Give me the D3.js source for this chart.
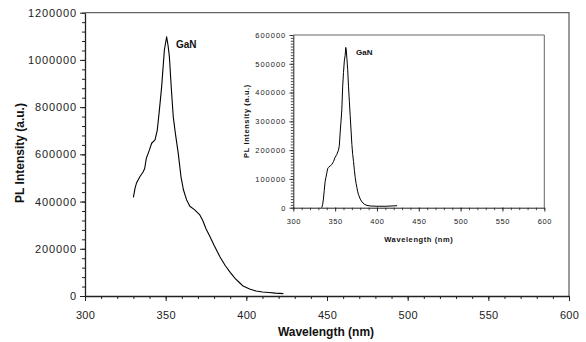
<!DOCTYPE html>
<html><head><meta charset="utf-8">
<script src="https://cdn.jsdelivr.net/npm/d3@7"></script>
<style>
body{margin:0;background:#fff;}
svg{display:block;font-family:"Liberation Sans",Arial,sans-serif;}
</style></head>
<body>
<svg id="c" width="586" height="342"></svg>
<script>
// Main spectrum (wavelength nm, PL intensity a.u.)
const mainWavelength = [330,331,332,334,336,337,338,340,341.3,343.4,344.8,346,347.5,349.2,350.6,351.5,352.3,353.5,354.7,356,357.8,359.5,361,363,365,368,371,373,375,377.5,380,383.7,387,390,393,396,398,402,406,410,414,418,423];
const mainIntensity  = [418000,456000,480000,505000,525000,540000,583000,620000,647000,661000,703000,780000,886000,1042000,1098000,1060000,1014000,880000,759000,690000,604000,505000,450000,407000,380000,365000,345000,320000,285000,251000,215000,165000,128000,100000,75000,55000,42000,30000,21000,17000,15000,12000,10000];
// Inset spectrum
const insetWavelength = [334,335,336,337,338,339,340,341,342,344,346,348,350,352,354,355,356,357,358,359,360,361,362,362.7,363.3,364,365,366,367,368,369,370,371,372,373,374,375,376,377,378,380,382,385,388,392,400,410,418,424];
const insetIntensity  = [0,10000,30000,60000,90000,105000,120000,135000,140000,145000,150000,160000,175000,185000,200000,215000,260000,300000,340000,420000,470000,510000,530000,557000,548000,520000,480000,420000,370000,320000,270000,220000,185000,160000,130000,105000,85000,70000,55000,45000,30000,20000,12000,8000,6000,5000,5000,6000,7000];
const xTicks = [300,350,400,450,500,550,600];
const mainYTicks = [0,200000,400000,600000,800000,1000000,1200000];
const insetYTicks = [0,100000,200000,300000,400000,500000,600000];
const labels = {x:"Wavelength (nm)", y:"PL Intensity (a.u.)", series:"GaN"};

const svg = d3.select("#c");

function panel(cfg){
  const g = svg.append("g");
  const x = d3.scaleLinear().domain([300,600]).range([cfg.x0,cfg.x1]);
  const y = d3.scaleLinear().domain([0,cfg.ymax]).range([cfg.y0,cfg.y1]);
  // background
  g.append("rect").attr("x",cfg.x0).attr("y",cfg.y1).attr("width",cfg.x1-cfg.x0).attr("height",cfg.y0-cfg.y1).attr("fill","#fff");
  // frame top/right
  g.append("path").attr("d",`M${cfg.x0},${cfg.y1}H${cfg.x1}V${cfg.y0}`).attr("fill","none").attr("stroke","#666").attr("stroke-width",cfg.frameW);
  // minor x ticks
  const xMinor = g.append("g").attr("transform",`translate(0,${cfg.y0})`)
    .call(d3.axisBottom(x).tickValues(d3.range(300,601,10)).tickSize(cfg.minorLen).tickFormat(""));
  xMinor.select(".domain").remove();
  const xAx = g.append("g").attr("transform",`translate(0,${cfg.y0})`)
    .call(d3.axisBottom(x).tickValues(xTicks).tickSize(cfg.majorLen).tickSizeOuter(0).tickPadding(cfg.xPad).tickFormat(d3.format("d")));
  const yMinor = g.append("g").attr("transform",`translate(${cfg.x0},0)`)
    .call(d3.axisLeft(y).tickValues(d3.range(0,cfg.ymax+1,cfg.yMinorStep)).tickSize(cfg.minorLen).tickFormat(""));
  yMinor.select(".domain").remove();
  const yAx = g.append("g").attr("transform",`translate(${cfg.x0},0)`)
    .call(d3.axisLeft(y).tickValues(cfg.yTicks).tickSize(cfg.majorLen).tickSizeOuter(0).tickPadding(cfg.yPad).tickFormat(d3.format("d")));
  [xMinor,xAx,yMinor,yAx].forEach(a=>{
    a.selectAll("line").attr("stroke","#222").attr("stroke-width",cfg.tickW);
    a.selectAll(".domain").attr("stroke","#222").attr("stroke-width",cfg.axisW);
  });
  xAx.selectAll("text").attr("font-size",cfg.tickFont).attr("fill","#222").attr("letter-spacing",cfg.xLs);
  yAx.selectAll("text").attr("font-size",cfg.tickFont).attr("fill","#222").attr("letter-spacing",cfg.yLs);
  // line
  const line = d3.line().x(d=>x(d[0])).y(d=>y(d[1]));
  g.append("path").datum(d3.zip(cfg.wl,cfg.val)).attr("d",line)
    .attr("fill","none").attr("stroke","#000").attr("stroke-width",cfg.lineW).attr("stroke-linejoin","round");
  // series label
  g.append("text").attr("x",cfg.gx).attr("y",cfg.gy).attr("font-size",cfg.gFont).attr("font-weight","bold").attr("fill","#111").text(labels.series);
  // axis titles
  g.append("text").attr("x",(cfg.x0+cfg.x1)/2+cfg.xtDx).attr("y",cfg.xtY).attr("text-anchor","middle")
    .attr("font-size",cfg.titleFont).attr("font-weight","bold").attr("fill","#111").attr("letter-spacing",cfg.titleLs).text(labels.x);
  g.append("text").attr("transform",`translate(${cfg.ytX},${cfg.ytY}) rotate(-90)`).attr("text-anchor","middle")
    .attr("font-size",cfg.titleFont).attr("font-weight","bold").attr("fill","#111").attr("letter-spacing",cfg.titleLs).text(labels.y);
}

panel({x0:85,x1:569,y0:296,y1:12.7,ymax:1200000,yTicks:mainYTicks,yMinorStep:40000,
  wl:mainWavelength,val:mainIntensity,minorLen:3,majorLen:5,tickW:1,axisW:1.3,frameW:1.3,
  xPad:10,yPad:3,tickFont:"11px",xLs:"0.3px",yLs:"0.9px",lineW:1.1,
  gx:176,gy:48,gFont:"10px",titleFont:"12px",titleLs:"0px",xtY:336,xtDx:-1,ytX:24,ytY:153});

panel({x0:293.3,x1:544.3,y0:207.7,y1:35,ymax:600000,yTicks:insetYTicks,yMinorStep:10000,
  wl:insetWavelength,val:insetIntensity,minorLen:2.5,majorLen:4,tickW:0.8,axisW:1,frameW:1,
  xPad:7,yPad:3,tickFont:"7.5px",xLs:"0.6px",yLs:"1px",lineW:1,
  gx:356,gy:55,gFont:"8px",titleFont:"7.5px",titleLs:"0.6px",xtY:242,xtDx:0,ytX:249,ytY:121});
</script>
</body></html>
